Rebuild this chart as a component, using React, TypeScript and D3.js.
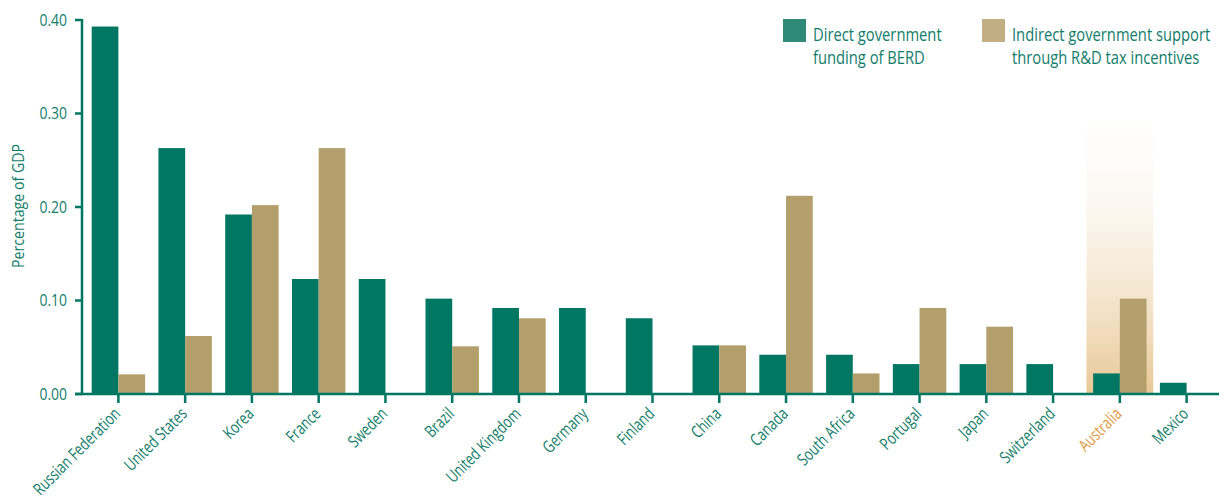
import React from "react";
import * as d3 from "d3";

const countries = ["Russian Federation","United States","Korea","France","Sweden","Brazil","United Kingdom","Germany","Finland","China","Canada","South Africa","Portugal","Japan","Switzerland","Australia","Mexico"];
const direct = [0.393,0.263,0.192,0.123,0.123,0.102,0.092,0.092,0.081,0.052,0.042,0.042,0.032,0.032,0.032,0.022,0.012];
const indirect = [0.021,0.062,0.202,0.263,0,0.051,0.081,0,0,0.052,0.212,0.022,0.092,0.072,0,0.102,0];
const yTicks = [0, 0.1, 0.2, 0.3, 0.4];
const seriesNames = ["Direct government", "funding of BERD"];
const seriesNames2 = ["Indirect government support", "through R&D tax incentives"];
const highlight = "Australia";

const W = 1232, H = 498;
const GREEN = "#007762";
const TAN = "#b39f6c";
const TEXT = "#117c69";
const FONT = "'Open Sans', sans-serif";

export default function App() {
  const x = d3.scaleBand<string>().domain(countries).range([85, 1220]).paddingInner(0.2).paddingOuter(0.1);
  const y = d3.scaleLinear().domain([0, 0.4]).range([394, 20]);
  const step = x.step();
  const bw = x.bandwidth() / 2;
  const axisX = 82;
  return (
    <svg width={W} height={H} style={{ position: "absolute", left: 0, top: 0, fontFamily: FONT }}>
      <defs>
        <linearGradient id="hl" x1="0" y1="0" x2="0" y2="1">
          <stop offset="0" stopColor="#ffffff" stopOpacity={0} />
          <stop offset="1" stopColor="#e8c795" />
        </linearGradient>
      </defs>
      <rect width={W} height={H} fill="#fff" />
      {countries.map((c) => c === highlight ? (
        <rect key={"hl" + c} x={(x(c) as number) + x.bandwidth() / 2 - step / 2} y={88} width={step} height={y(0) - 88} fill="url(#hl)" />
      ) : null)}
      {countries.map((c, i) => {
        const x0 = x(c) as number;
        return (
          <g key={c}>
            {direct[i] > 0 && <rect x={x0} y={y(direct[i])} width={bw} height={y(0) - y(direct[i])} fill={GREEN} />}
            {indirect[i] > 0 && <rect x={x0 + bw} y={y(indirect[i])} width={bw} height={y(0) - y(indirect[i])} fill={TAN} />}
          </g>
        );
      })}
      <line x1={axisX} x2={axisX} y1={y(0.4) - 1} y2={y(0) + 1} stroke={GREEN} strokeWidth={2.5} />
      {yTicks.map((t) => (
        <g key={t}>
          <line x1={axisX - 7} x2={axisX} y1={y(t)} y2={y(t)} stroke={GREEN} strokeWidth={2.5} />
          <text transform={`translate(67,${y(t) + 5.5}) scale(0.9,1)`} textAnchor="end" fontSize={15.5} fill={TEXT}>{t.toFixed(2)}</text>
        </g>
      ))}
      <text transform={`translate(24,206) rotate(-90) scale(0.86,1)`} textAnchor="middle" fontSize={16.5} fill={TEXT}>Percentage of GDP</text>
      <line x1={axisX - 7} x2={1219} y1={y(0)} y2={y(0)} stroke={GREEN} strokeWidth={2.5} />
      {countries.map((c) => {
        const cx = (x(c) as number) + x.bandwidth() / 2;
        return (
          <g key={"t" + c}>
            <line x1={cx} x2={cx} y1={y(0)} y2={y(0) + 9} stroke={GREEN} strokeWidth={2.5} />
            <text transform={`translate(${cx + 3},${y(0) + 21}) rotate(-45) scale(0.76,1)`} textAnchor="end" fontSize={17} fill={c === highlight ? "#e09a45" : TEXT}>{c}</text>
          </g>
        );
      })}
      <rect x={783} y={19} width={23} height={23} fill="#2f8b78" />
      <text transform="translate(813,40.5) scale(0.82,1)" fontSize={18} fill={TEXT}>{seriesNames[0]}</text>
      <text transform="translate(813,63.5) scale(0.82,1)" fontSize={18} fill={TEXT}>{seriesNames[1]}</text>
      <rect x={982} y={19} width={23} height={23} fill="#c1ae82" />
      <text transform="translate(1012,40.5) scale(0.82,1)" fontSize={18} fill={TEXT}>{seriesNames2[0]}</text>
      <text transform="translate(1012,63.5) scale(0.82,1)" fontSize={18} fill={TEXT}>{seriesNames2[1]}</text>
    </svg>
  );
}
